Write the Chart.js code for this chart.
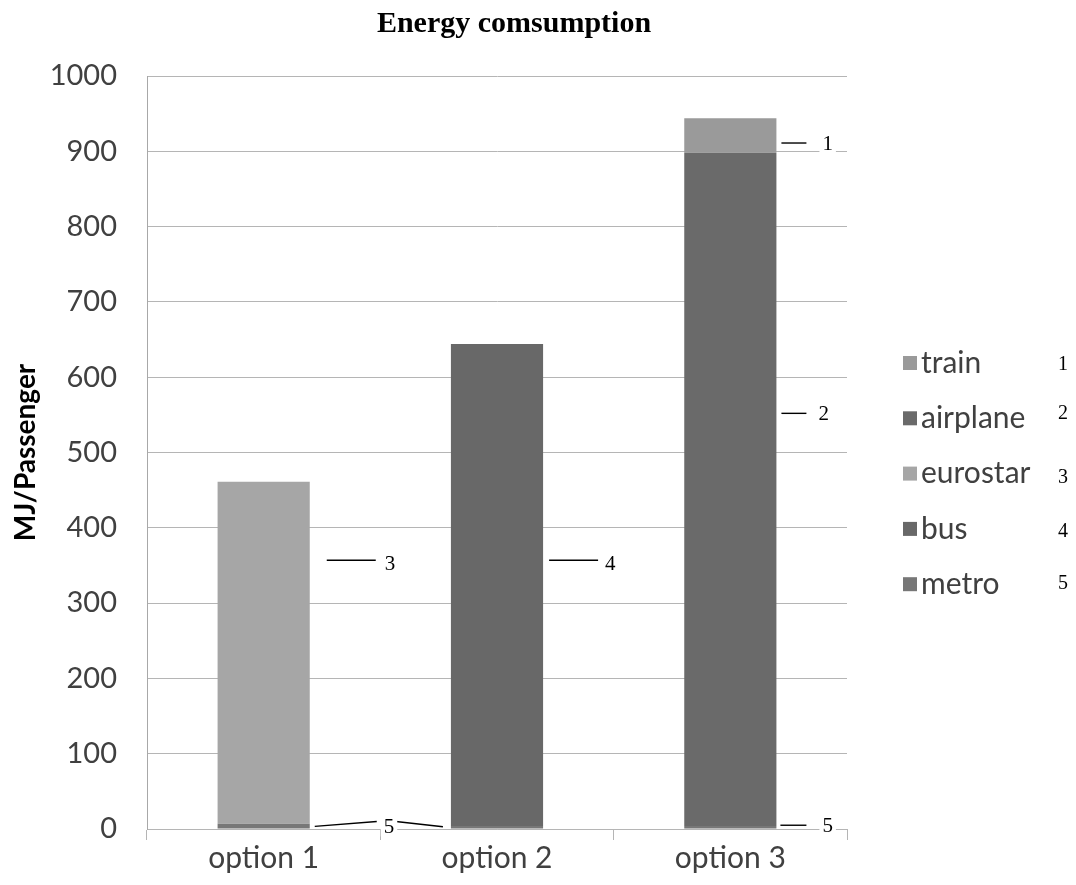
<!DOCTYPE html>
<html>
<head>
<meta charset="utf-8">
<script src="https://cdn.jsdelivr.net/npm/chart.js@4.4.1/dist/chart.umd.min.js"></script>
<style>
  body { margin: 0; background: #fff; }
  #wrap { width: 1076px; height: 885px; position: relative; }
</style>
</head>
<body>
<div id="wrap"><canvas id="energyChart"></canvas></div>
<script>
// ============================================
// DATA
// ============================================

const categories = ["option 1", "option 2", "option 3"];

const metro    = [7, 4, 4];
const eurostar = [454, 0, 0];
const bus      = [0, 640, 0];
const airplane = [0, 0, 894];
const train    = [0, 0, 46];

const yTicks = [0, 100, 200, 300, 400, 500, 600, 700, 800, 900, 1000];

// legend order (top to bottom) and the little numbers next to it
const legendNames = ["train", "airplane", "eurostar", "bus", "metro"];
const legendNums  = ["1", "2", "3", "4", "5"];

// numbered callouts: [dataset label, category index, value at line, number]
const callouts = [
    ["train",    2, 911, "1"],
    ["airplane", 2, 552, "2"],
    ["eurostar", 0, 357, "3"],
    ["bus",      1, 357, "4"],
    ["metro",    2, 5,   "5"]
];

const colors = {
    train: "#9a9a9a",
    airplane: "#6a6a6a",
    eurostar: "#a6a6a6",
    bus: "#686868",
    metro: "#777777"
};

// ============================================
// EXTRA DRAWING (title, callouts, legend)
// ============================================

const extrasPlugin = {
    id: "extras",
    afterDraw(chart) {
        const ctx = chart.ctx;
        const y = chart.scales.y;

        ctx.save();

        // title
        ctx.fillStyle = "#000";
        ctx.font = "bold 30px 'Liberation Serif'";
        ctx.textAlign = "center";
        ctx.textBaseline = "alphabetic";
        ctx.fillText("Energy comsumption", 514, 32);

        // callouts
        ctx.textBaseline = "middle";
        ctx.font = "21px 'Liberation Serif'";
        ctx.strokeStyle = "#000";
        ctx.lineWidth = 1.4;

        function label(txt, x, py) {
            const w = ctx.measureText(txt).width;
            ctx.fillStyle = "#fff";
            ctx.fillRect(x - 3, py - 10, w + 6, 20);
            ctx.fillStyle = "#000";
            ctx.textAlign = "left";
            ctx.fillText(txt, x, py + 1);
        }

        callouts.forEach(function (c) {
            const dsIndex = chart.data.datasets.findIndex(d => d.label === c[0]);
            const bar = chart.getDatasetMeta(dsIndex).data[c[1]];
            const right = bar.x + bar.width / 2;
            const py = y.getPixelForValue(c[2]);
            let x0 = right + 5, x1 = right + 30, tx = right + 46;
            if (c[0] === "airplane") { tx = right + 42; }
            if (c[0] === "eurostar") { x0 = right + 17; x1 = right + 66; tx = right + 75; }
            if (c[0] === "bus") { x0 = right + 6; x1 = right + 55; tx = right + 62; }
            if (c[0] === "metro") { x0 = right + 4; x1 = right + 30; tx = right + 46; }
            ctx.beginPath();
            ctx.moveTo(x0, py);
            ctx.lineTo(x1, py);
            ctx.stroke();
            label(c[3], tx, py + (c[0] === "eurostar" || c[0] === "bus" ? 3 : 0));
        });

        // the "5" between option 1 and option 2 pointing at both metro bits
        const m = chart.getDatasetMeta(0).data;
        const r1 = m[0].x + m[0].width / 2;
        const l2 = m[1].x - m[1].width / 2;
        const pm = y.getPixelForValue(metro[0] / 2);
        const pt = y.getPixelForValue(10);
        ctx.beginPath();
        ctx.moveTo(r1 + 5, pm);
        ctx.lineTo(r1 + 67, pt);
        ctx.moveTo(l2 - 55, pt);
        ctx.lineTo(l2 - 8, y.getPixelForValue(3));
        ctx.stroke();
        label("5", r1 + 74, pt + 5);

        // legend
        const lx = 903, ly = 363, step = 55.3;
        legendNames.forEach(function (name, i) {
            const cy = ly + i * step;
            ctx.fillStyle = colors[name];
            ctx.fillRect(lx, cy - 7, 14, 14);
            ctx.fillStyle = "#404040";
            ctx.font = "30px Lato";
            ctx.textAlign = "left";
            ctx.fillText(name, lx + 18, cy);
            ctx.fillStyle = "#000";
            ctx.font = "20px 'Liberation Serif'";
            ctx.fillText(legendNums[i], 1058, cy + [2, -5, 4, 3, 0][i]);
        });

        ctx.restore();
    }
};

// ============================================
// CHART
// ============================================

function ds(label, data) {
    return {
        label: label,
        data: data,
        backgroundColor: colors[label],
        borderWidth: 0,
        barPercentage: 0.79,
        categoryPercentage: 0.5
    };
}

const energyChart = new Chart(
    document.getElementById("energyChart"),
    {
        type: "bar",

        data: {
            labels: categories,
            datasets: [
                ds("metro", metro),
                ds("eurostar", eurostar),
                ds("bus", bus),
                ds("airplane", airplane),
                ds("train", train)
            ]
        },

        options: {
            responsive: true,
            maintainAspectRatio: false,
            animation: false,
            layout: {
                padding: { top: 76, right: 229, bottom: 0, left: 0 }
            },
            plugins: {
                legend: { display: false },
                title: { display: false },
                tooltip: { enabled: false }
            },
            scales: {
                x: {
                    stacked: true,
                    afterFit(scale) { scale.height = 56; },
                    grid: {
                        offset: true,
                        drawOnChartArea: false,
                        tickLength: 11,
                        color: "#b5b5b5"
                    },
                    border: { color: "#b5b5b5" },
                    ticks: {
                        color: "#404040",
                        font: { family: "Lato", size: 30 },
                        padding: 0
                    }
                },
                y: {
                    stacked: true,
                    min: 0,
                    max: 1000,
                    afterFit(scale) { scale.width = 147; },
                    afterBuildTicks(scale) {
                        scale.ticks = yTicks.map(v => ({ value: v }));
                    },
                    grid: {
                        drawTicks: false,
                        color: "#b5b5b5"
                    },
                    border: { color: "#a8a8a8" },
                    ticks: {
                        color: "#404040",
                        font: { family: "Lato", size: 29 },
                        padding: 30,
                        callback: function (v) { return String(v); }
                    },
                    title: {
                        display: true,
                        text: "MJ/Passenger",
                        color: "#000",
                        font: { family: "Lato", size: 28, weight: "bold" },
                        padding: { top: 9, bottom: 0 }
                    }
                }
            }
        },

        plugins: [extrasPlugin]
    }
);
</script>
</body>
</html>
